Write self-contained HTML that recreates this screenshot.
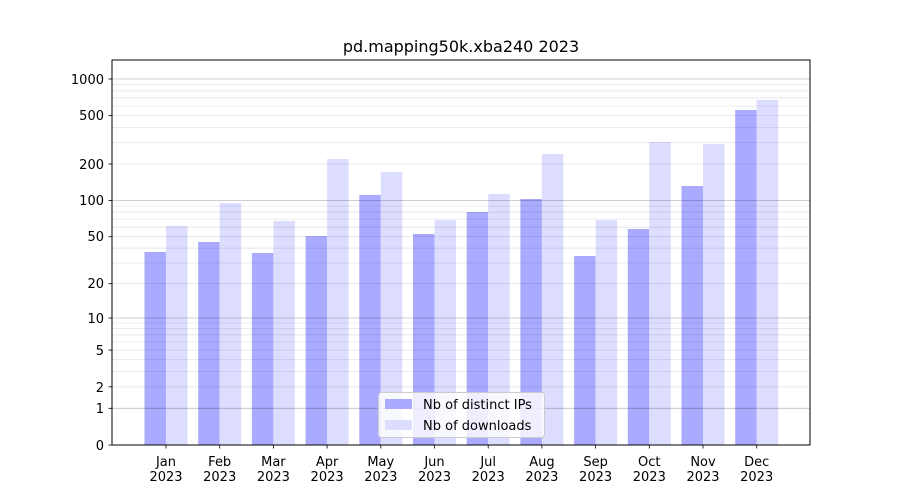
<!DOCTYPE html>
<html><head><style>body{margin:0;background:#fff}svg{display:block;font-family:"DejaVu Sans","Liberation Sans",sans-serif}</style></head><body>
<svg width="900" height="500" viewBox="0 0 900 500">
<rect width="900" height="500" fill="#fff"/>
<g fill="#aaaaff">
<rect x="144.5" y="252" width="21.5" height="193"/><rect x="198.2" y="242" width="21.5" height="203"/><rect x="251.9" y="253" width="21.5" height="192"/><rect x="305.6" y="236" width="21.5" height="209"/><rect x="359.3" y="195" width="21.5" height="250"/><rect x="413" y="234" width="21.5" height="211"/><rect x="466.7" y="212" width="21.5" height="233"/><rect x="520.4" y="199" width="21.5" height="246"/><rect x="574.1" y="256" width="21.5" height="189"/><rect x="627.8" y="229" width="21.5" height="216"/><rect x="681.5" y="186" width="21.5" height="259"/><rect x="735.2" y="110" width="21.5" height="335"/>
</g>
<g fill="#ddddff">
<rect x="166" y="226" width="21.5" height="219"/><rect x="219.7" y="203" width="21.5" height="242"/><rect x="273.4" y="221" width="21.5" height="224"/><rect x="327.1" y="159" width="21.5" height="286"/><rect x="380.8" y="172" width="21.5" height="273"/><rect x="434.5" y="220" width="21.5" height="225"/><rect x="488.2" y="194" width="21.5" height="251"/><rect x="541.9" y="154" width="21.5" height="291"/><rect x="595.6" y="220" width="21.5" height="225"/><rect x="649.3" y="142" width="21.5" height="303"/><rect x="703" y="144" width="21.5" height="301"/><rect x="756.7" y="100" width="21.5" height="345"/>
</g>
<g stroke="#000" stroke-opacity="0.1" stroke-width="0.8">
<line x1="112" x2="810" y1="386.8" y2="386.8"/><line x1="112" x2="810" y1="371.5" y2="371.5"/><line x1="112" x2="810" y1="359.7" y2="359.7"/><line x1="112" x2="810" y1="350.1" y2="350.1"/><line x1="112" x2="810" y1="341.9" y2="341.9"/><line x1="112" x2="810" y1="334.8" y2="334.8"/><line x1="112" x2="810" y1="328.6" y2="328.6"/><line x1="112" x2="810" y1="323" y2="323"/>
<line x1="112" x2="810" y1="283.7" y2="283.7"/><line x1="112" x2="810" y1="263" y2="263"/><line x1="112" x2="810" y1="248.2" y2="248.2"/><line x1="112" x2="810" y1="236.7" y2="236.7"/><line x1="112" x2="810" y1="227.2" y2="227.2"/><line x1="112" x2="810" y1="219.1" y2="219.1"/><line x1="112" x2="810" y1="212.2" y2="212.2"/><line x1="112" x2="810" y1="206" y2="206"/>
<line x1="112" x2="810" y1="164" y2="164"/><line x1="112" x2="810" y1="142.6" y2="142.6"/><line x1="112" x2="810" y1="127.4" y2="127.4"/><line x1="112" x2="810" y1="115.6" y2="115.6"/><line x1="112" x2="810" y1="106" y2="106"/><line x1="112" x2="810" y1="97.8" y2="97.8"/><line x1="112" x2="810" y1="90.8" y2="90.8"/><line x1="112" x2="810" y1="84.5" y2="84.5"/>
</g>
<g stroke="#000" stroke-opacity="0.25" stroke-width="0.8">
<line x1="112" x2="810" y1="408.3" y2="408.3"/><line x1="112" x2="810" y1="318" y2="318"/><line x1="112" x2="810" y1="200.5" y2="200.5"/><line x1="112" x2="810" y1="79" y2="79"/>
</g>
<rect x="112" y="60" width="698" height="385" fill="none" stroke="#000" stroke-width="1"/>
<g stroke="#000" stroke-width="0.8">
<line x1="108.5" x2="112" y1="445" y2="445"/><line x1="108.5" x2="112" y1="408.3" y2="408.3"/><line x1="108.5" x2="112" y1="386.8" y2="386.8"/><line x1="108.5" x2="112" y1="350.1" y2="350.1"/><line x1="108.5" x2="112" y1="318" y2="318"/><line x1="108.5" x2="112" y1="283.7" y2="283.7"/><line x1="108.5" x2="112" y1="236.7" y2="236.7"/><line x1="108.5" x2="112" y1="200.5" y2="200.5"/><line x1="108.5" x2="112" y1="164" y2="164"/><line x1="108.5" x2="112" y1="115.6" y2="115.6"/><line x1="108.5" x2="112" y1="79" y2="79"/>
<line x1="166" x2="166" y1="445" y2="448.5"/><line x1="219.7" x2="219.7" y1="445" y2="448.5"/><line x1="273.4" x2="273.4" y1="445" y2="448.5"/><line x1="327.1" x2="327.1" y1="445" y2="448.5"/><line x1="380.8" x2="380.8" y1="445" y2="448.5"/><line x1="434.5" x2="434.5" y1="445" y2="448.5"/><line x1="488.2" x2="488.2" y1="445" y2="448.5"/><line x1="541.9" x2="541.9" y1="445" y2="448.5"/><line x1="595.6" x2="595.6" y1="445" y2="448.5"/><line x1="649.3" x2="649.3" y1="445" y2="448.5"/><line x1="703" x2="703" y1="445" y2="448.5"/><line x1="756.7" x2="756.7" y1="445" y2="448.5"/>
</g>
<g font-size="13" text-anchor="end" fill="#000">
<text x="104" y="450">0</text><text x="104" y="413">1</text><text x="104" y="392">2</text><text x="104" y="355">5</text><text x="104" y="323">10</text><text x="104" y="288">20</text><text x="104" y="241">50</text><text x="104" y="205">100</text><text x="104" y="169">200</text><text x="104" y="120">500</text><text x="104" y="84">1000</text>
</g>
<g font-size="13" text-anchor="middle" fill="#000">
<text x="166" y="466">Jan</text><text x="166" y="481">2023</text>
<text x="219.7" y="466">Feb</text><text x="219.7" y="481">2023</text>
<text x="273.4" y="466">Mar</text><text x="273.4" y="481">2023</text>
<text x="327.1" y="466">Apr</text><text x="327.1" y="481">2023</text>
<text x="380.8" y="466">May</text><text x="380.8" y="481">2023</text>
<text x="434.5" y="466">Jun</text><text x="434.5" y="481">2023</text>
<text x="488.2" y="466">Jul</text><text x="488.2" y="481">2023</text>
<text x="541.9" y="466">Aug</text><text x="541.9" y="481">2023</text>
<text x="595.6" y="466">Sep</text><text x="595.6" y="481">2023</text>
<text x="649.3" y="466">Oct</text><text x="649.3" y="481">2023</text>
<text x="703" y="466">Nov</text><text x="703" y="481">2023</text>
<text x="756.7" y="466">Dec</text><text x="756.7" y="481">2023</text>
<text x="461" y="52" font-size="16">pd.mapping50k.xba240 2023</text>
</g>
<rect x="378.5" y="392.5" width="166" height="45" rx="3" fill="#fff" fill-opacity="0.8" stroke="#ccc"/>
<rect x="385" y="399" width="27" height="10" fill="#aaaaff"/>
<rect x="385" y="420" width="27" height="10" fill="#ddddff"/>
<g font-size="13" fill="#000"><text x="423" y="409">Nb of distinct IPs</text><text x="423" y="430">Nb of downloads</text></g>
</svg>
</body></html>
